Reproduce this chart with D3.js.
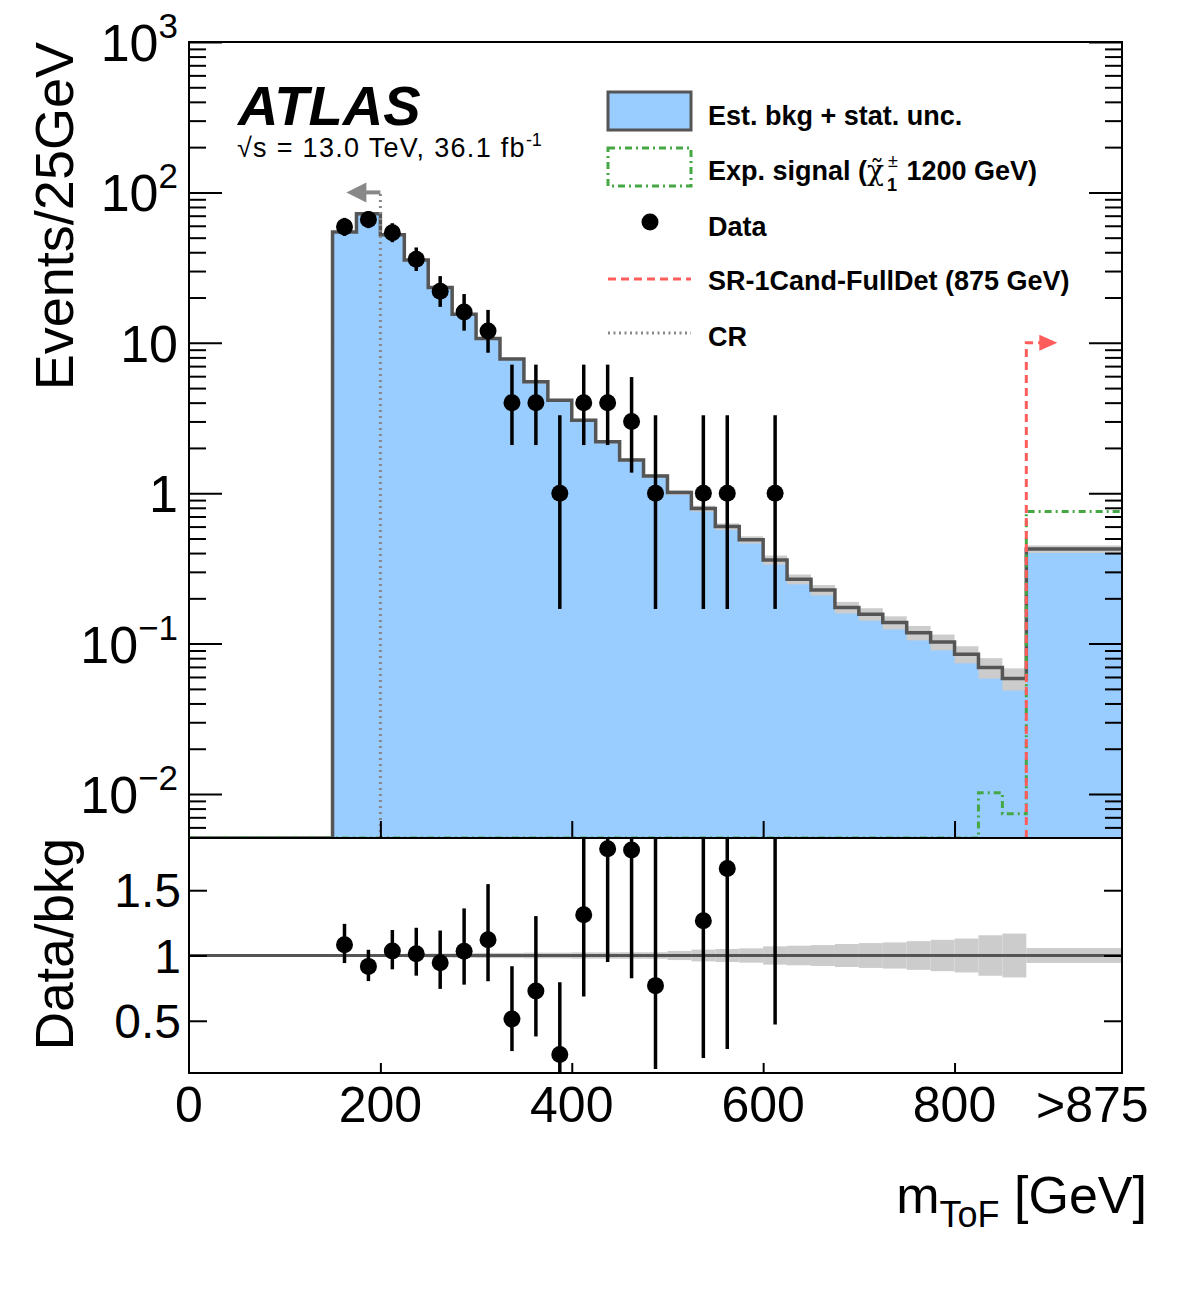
<!DOCTYPE html>
<html>
<head>
<meta charset="utf-8">
<script src="https://cdn.jsdelivr.net/npm/d3@7"></script>
<style>
  body { margin: 0; background: #fff; }
  text { font-family: "Liberation Sans", Arial, Helvetica, sans-serif; fill: #000; }
</style>
</head>
<body>
<svg id="chart" width="1182" height="1311"></svg>
<script>
// bin edges in GeV (last bin is the >875 overflow, drawn up to 975)
const binEdges = [150, 175, 200, 225, 250, 275, 300, 325, 350, 375, 400, 425, 450, 475, 500,
  525, 550, 575, 600, 625, 650, 675, 700, 725, 750, 775, 800, 825, 850, 875, 975];

// estimated background per bin
const bkg = [54.5, 72, 52.2, 35.5, 23.3, 15.5, 10.7, 7.8, 5.5, 4.15, 3.05, 2.2, 1.66, 1.30, 1.01,
  0.79, 0.60, 0.49, 0.36, 0.268, 0.227, 0.174, 0.157, 0.138, 0.118, 0.1026, 0.085, 0.0693, 0.0586, 0.425];

// relative stat. uncertainty of the background
const bkgUnc = [0.012, 0.010, 0.012, 0.014, 0.016, 0.018, 0.020, 0.020, 0.022, 0.022, 0.024, 0.024, 0.025, 0.025, 0.035,
  0.045, 0.05, 0.055, 0.07, 0.075, 0.08, 0.088, 0.095, 0.1, 0.11, 0.12, 0.13, 0.155, 0.168, 0.057];

// expected signal (chargino 1200 GeV)
const signal = [0, 0, 0, 0, 0, 0, 0, 0, 0, 0, 0, 0, 0, 0, 0,
  0, 0, 0, 0, 0, 0, 0, 0, 0, 0, 0, 0, 0.0102, 0.0074, 0.755];

// observed data and its (asymmetric Poisson) errors
const dataCounts = [59, 66, 54, 36, 22, 16, 12, 4, 4, 1, 4, 4, 3, 1, 0,
  1, 1, 0, 1, 0, 0, 0, 0, 0, 0, 0, 0, 0, 0, 0];
const dataErrLow = [7.66, 8.11, 7.33, 5.98, 4.66, 3.96, 3.41, 1.91, 1.91, 0.83, 1.91, 1.91, 1.63, 0.83, 0,
  0.83, 0.83, 0, 0.83, 0, 0, 0, 0, 0, 0, 0, 0, 0, 0, 0];
const dataErrHigh = [8.71, 9.15, 8.39, 7.04, 5.76, 5.09, 4.55, 3.16, 3.16, 2.30, 3.16, 3.16, 2.92, 2.30, 0,
  2.30, 2.30, 0, 2.30, 0, 0, 0, 0, 0, 0, 0, 0, 0, 0, 0];

// cut lines
const crCut = 200, crArrowLevel = 100;
const srCut = 875, srArrowLevel = 10;

// axis ticks / labels
const yMajor = [0.01, 0.1, 1, 10, 100, 1000];
const yTickBase = ["10", "10", "1", "10", "10", "10"];
const yTickExp = ["\u22122", "\u22121", "", "", "2", "3"];
const ratioTicks = [0.5, 1, 1.5];
const ratioTickText = ["0.5", "1", "1.5"];
const xTicks = [200, 400, 600, 800];
const xLabelVals = [0, 200, 400, 600, 800, 944];
const xLabelText = ["0", "200", "400", "600", "800", ">875"];

// ---------- layout ----------
const L = 189, R = 1122, T = 42, M = 838, B = 1073;
const BLUE = "#99ccff", LINE = "#555555", BAND = "#cccccc";
const GREEN = "#45a845", RED = "#ff5c5c", GREY = "#888888";

const x = d3.scaleLinear().domain([0, 975]).range([L, R]);
const y = d3.scaleLog().domain([0.0051, 1000]).range([M, T]);
const yr = d3.scaleLinear().domain([0.1, 1.9]).range([B, M]);
const yc = v => (v > 0 ? y(Math.max(v, y.domain()[0])) : M);

const svg = d3.select("#chart");
const defs = svg.append("defs");
defs.append("clipPath").attr("id", "clipTop")
  .append("rect").attr("x", L).attr("y", T).attr("width", R - L).attr("height", M - T);
defs.append("clipPath").attr("id", "clipRatio")
  .append("rect").attr("x", L).attr("y", M).attr("width", R - L).attr("height", B - M);

const bins = bkg.map((v, i) => ({
  lo: binEdges[i], hi: binEdges[i + 1], bkg: v, unc: bkgUnc[i], sig: signal[i],
  n: dataCounts[i], eLo: dataErrLow[i], eHi: dataErrHigh[i]
}));
const dataBins = bins.filter(b => b.n > 0);

// ---------- upper panel ----------
const upper = svg.append("g").attr("clip-path", "url(#clipTop)");

const stepPts = [];
bins.forEach(b => { stepPts.push([b.lo, b.bkg], [b.hi, b.bkg]); });

upper.append("path")
  .datum(stepPts)
  .attr("fill", BLUE)
  .attr("d", d3.area().x(d => x(d[0])).y0(M).y1(d => yc(d[1])));

upper.selectAll("rect.band")
  .data(bins)
  .join("rect")
  .attr("class", "band")
  .attr("x", b => x(b.lo))
  .attr("width", b => x(b.hi) - x(b.lo))
  .attr("y", b => y(b.bkg * (1 + b.unc)))
  .attr("height", b => y(b.bkg * (1 - b.unc)) - y(b.bkg * (1 + b.unc)))
  .attr("fill", BAND);

const line = d3.line().x(d => x(d[0])).y(d => yc(d[1]));

upper.append("path")
  .datum([[0, 0], [150, 0]].concat(stepPts))
  .attr("fill", "none")
  .attr("stroke", LINE)
  .attr("stroke-width", 3.5)
  .attr("d", line);

const sigPts = [[0, 0]];
bins.forEach(b => { sigPts.push([b.lo, b.sig], [b.hi, b.sig]); });
upper.append("path")
  .datum(sigPts)
  .attr("fill", "none")
  .attr("stroke", GREEN)
  .attr("stroke-width", 3)
  .attr("stroke-dasharray", "7,4,2,4")
  .attr("d", line);

// SR cut line with arrow
upper.append("path")
  .attr("d", `M${x(srCut)},${M} V${y(srArrowLevel)} H${x(srCut) + 14}`)
  .attr("fill", "none").attr("stroke", RED).attr("stroke-width", 3)
  .attr("stroke-dasharray", "8,5");
upper.append("path")
  .attr("d", `M${x(srCut) + 13},${y(srArrowLevel) - 8} L${x(srCut) + 31},${y(srArrowLevel)} L${x(srCut) + 13},${y(srArrowLevel) + 8} Z`)
  .attr("fill", RED);

// CR cut line with arrow
upper.append("path")
  .attr("d", `M${x(crCut)},${M} V${y(crArrowLevel)}`)
  .attr("fill", "none").attr("stroke", GREY).attr("stroke-width", 3)
  .attr("stroke-dasharray", "2,4");
upper.append("path")
  .attr("d", `M${x(crCut)},${y(crArrowLevel)} H${x(crCut) - 16}`)
  .attr("stroke", GREY).attr("stroke-width", 4);
upper.append("path")
  .attr("d", `M${x(crCut) - 14},${y(crArrowLevel) - 10} L${x(crCut) - 34},${y(crArrowLevel)} L${x(crCut) - 14},${y(crArrowLevel) + 10} Z`)
  .attr("fill", GREY);

// data
const cx = b => x((b.lo + b.hi) / 2);
upper.selectAll("line.err")
  .data(dataBins)
  .join("line")
  .attr("class", "err")
  .attr("x1", cx).attr("x2", cx)
  .attr("y1", b => y(b.n - b.eLo))
  .attr("y2", b => y(b.n + b.eHi))
  .attr("stroke", "#000").attr("stroke-width", 3.5);
upper.selectAll("circle.pt")
  .data(dataBins)
  .join("circle")
  .attr("class", "pt")
  .attr("cx", cx).attr("cy", b => y(b.n)).attr("r", 8.5)
  .attr("fill", "#000");

// ---------- ratio panel ----------
const rat = svg.append("g").attr("clip-path", "url(#clipRatio)");
rat.selectAll("rect.rband")
  .data(bins)
  .join("rect")
  .attr("class", "rband")
  .attr("x", b => x(b.lo))
  .attr("width", b => x(b.hi) - x(b.lo))
  .attr("y", b => yr(1 + b.unc))
  .attr("height", b => yr(1 - b.unc) - yr(1 + b.unc))
  .attr("fill", BAND);
rat.append("line")
  .attr("x1", L).attr("x2", R).attr("y1", yr(1)).attr("y2", yr(1))
  .attr("stroke", LINE).attr("stroke-width", 3);
rat.selectAll("line.rerr")
  .data(dataBins)
  .join("line")
  .attr("class", "rerr")
  .attr("x1", cx).attr("x2", cx)
  .attr("y1", b => yr((b.n - b.eLo) / b.bkg))
  .attr("y2", b => yr((b.n + b.eHi) / b.bkg))
  .attr("stroke", "#000").attr("stroke-width", 3.5);
rat.selectAll("circle.rpt")
  .data(dataBins)
  .join("circle")
  .attr("class", "rpt")
  .attr("cx", cx).attr("cy", b => yr(b.n / b.bkg)).attr("r", 8.5)
  .attr("fill", "#000");

// ---------- axes ----------
const isMajor = t => Math.abs(Math.log10(t) - Math.round(Math.log10(t))) < 1e-9;
const yMinor = y.ticks().filter(t => !isMajor(t));

function tickAxis(axis, tx, ty) {
  svg.append("g")
    .attr("transform", `translate(${tx},${ty})`)
    .call(axis)
    .call(g => g.select(".domain").remove())
    .call(g => g.selectAll(".tick line").attr("stroke", "#000").attr("stroke-width", 2));
}
tickAxis(d3.axisLeft(y).tickValues(yMajor).tickSize(-33).tickFormat(""), L, 0);
tickAxis(d3.axisLeft(y).tickValues(yMinor).tickSize(-17).tickFormat(""), L, 0);
tickAxis(d3.axisRight(y).tickValues(yMajor).tickSize(-33).tickFormat(""), R, 0);
tickAxis(d3.axisRight(y).tickValues(yMinor).tickSize(-17).tickFormat(""), R, 0);
tickAxis(d3.axisBottom(x).tickValues(xTicks).tickSize(-17).tickFormat(""), 0, M);
tickAxis(d3.axisBottom(x).tickValues(xTicks).tickSize(-10).tickFormat(""), 0, B);
tickAxis(d3.axisLeft(yr).tickValues(ratioTicks).tickSize(-18).tickFormat(""), L, 0);
tickAxis(d3.axisRight(yr).tickValues(ratioTicks).tickSize(-18).tickFormat(""), R, 0);

// frames
svg.append("rect").attr("x", L).attr("y", T).attr("width", R - L).attr("height", M - T)
  .attr("fill", "none").attr("stroke", "#000").attr("stroke-width", 2);
svg.append("rect").attr("x", L).attr("y", M).attr("width", R - L).attr("height", B - M)
  .attr("fill", "none").attr("stroke", "#000").attr("stroke-width", 2);

// y tick labels
yMajor.forEach((v, i) => {
  const t = svg.append("text")
    .attr("x", 178).attr("y", y(v) + 19)
    .attr("text-anchor", "end").attr("font-size", 52)
    .text(yTickBase[i]);
  if (yTickExp[i]) {
    t.append("tspan").attr("font-size", 35).attr("dy", -23).text(yTickExp[i]);
  }
});
ratioTicks.forEach((v, i) => {
  svg.append("text")
    .attr("x", 181).attr("y", yr(v) + 17)
    .attr("text-anchor", "end").attr("font-size", 48)
    .text(ratioTickText[i]);
});
xLabelVals.forEach((v, i) => {
  svg.append("text")
    .attr("x", x(v)).attr("y", 1122)
    .attr("text-anchor", "middle").attr("font-size", 50)
    .text(xLabelText[i]);
});

// axis titles
const xt = svg.append("text").attr("x", 1147).attr("y", 1213)
  .attr("text-anchor", "end").attr("font-size", 52);
xt.append("tspan").text("m");
xt.append("tspan").attr("font-size", 36).attr("dy", 14).text("ToF");
xt.append("tspan").attr("dy", -14).text(" [GeV]");

svg.append("text")
  .attr("transform", `translate(73,${T}) rotate(-90)`)
  .attr("text-anchor", "end").attr("font-size", 54)
  .text("Events/25GeV");
svg.append("text")
  .attr("transform", `translate(73,${M}) rotate(-90)`)
  .attr("text-anchor", "end").attr("font-size", 53)
  .text("Data/bkg");

// ATLAS label
svg.append("text").attr("x", 238).attr("y", 125)
  .attr("font-size", 56).attr("font-weight", "bold").attr("font-style", "italic")
  .text("ATLAS");
const lumi = svg.append("text").attr("x", 237).attr("y", 157).attr("font-size", 27)
  .attr("letter-spacing", 1.3);
lumi.append("tspan").text("\u221As = 13.0 TeV, 36.1 fb");
lumi.append("tspan").attr("font-size", 18).attr("dy", -11).attr("letter-spacing", 0).text("-1");

// ---------- legend ----------
const lg = svg.append("g");
lg.append("rect").attr("x", 608).attr("y", 92).attr("width", 83).attr("height", 38)
  .attr("fill", BLUE).attr("stroke", LINE).attr("stroke-width", 3);
lg.append("rect").attr("x", 608).attr("y", 148).attr("width", 83).attr("height", 38)
  .attr("fill", "none").attr("stroke", GREEN).attr("stroke-width", 3)
  .attr("stroke-dasharray", "7,4,2,4");
lg.append("circle").attr("cx", 650).attr("cy", 222).attr("r", 8.5).attr("fill", "#000");
lg.append("line").attr("x1", 608).attr("x2", 691).attr("y1", 279).attr("y2", 279)
  .attr("stroke", RED).attr("stroke-width", 3).attr("stroke-dasharray", "8,5");
lg.append("line").attr("x1", 608).attr("x2", 691).attr("y1", 333).attr("y2", 333)
  .attr("stroke", GREY).attr("stroke-width", 3).attr("stroke-dasharray", "2,3.5");

const lgText = (yy) => lg.append("text").attr("x", 708).attr("y", yy)
  .attr("font-size", 27).attr("font-weight", "bold");
lgText(125).text("Est. bkg + stat. unc.");
const sg = lgText(180);
sg.append("tspan").text("Exp. signal (");
sg.append("tspan").attr("font-family", "'DejaVu Serif', serif")
  .attr("font-weight", "normal").attr("font-size", 28).text("\u03C7\u0303");
sg.append("tspan").attr("font-size", 18).attr("font-weight", "normal").attr("dy", -13).attr("dx", 4).text("\u00B1");
sg.append("tspan").attr("font-size", 18).attr("dy", 24).attr("dx", -11).text("1");
sg.append("tspan").attr("dy", -11).attr("dx", 2).text(" 1200 GeV)");
lgText(236).text("Data");
lgText(290).text("SR-1Cand-FullDet (875 GeV)");
lgText(346).text("CR");
</script>
</body>
</html>
